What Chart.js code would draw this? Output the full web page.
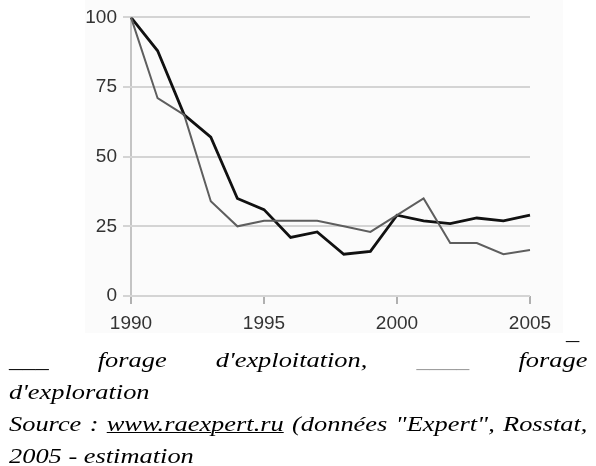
<!DOCTYPE html>
<html>
<head>
<meta charset="utf-8">
<script src="https://cdn.jsdelivr.net/npm/chart.js@4.4.0/dist/chart.umd.min.js"></script>
<style>
  html, body { margin: 0; padding: 0; background: #fff; }
  body { width: 596px; height: 466px; overflow: hidden; position: relative; }
  #bg { position: absolute; left: 85px; top: 0; width: 478px; height: 333px; background: #fbfbfb; }
  #wrap { position: absolute; left: 0; top: 0; width: 596px; height: 335px; }
  #note {
    position: absolute; left: 9px; top: 344px; width: 482px;
    transform: scaleX(1.2); transform-origin: 0 0;
    font-family: "Liberation Serif", "Times New Roman", serif;
    font-style: italic; font-size: 22px; line-height: 32px;
    color: #000;
  }
  #note p { margin: 0; text-align: justify; }
  #note p.full { text-align-last: justify; }
  #note .gray { color: #9a9a9a; }
  #note u { text-decoration-thickness: 1px; }
  #dash {
    position: absolute; left: 566px; top: 319px;
    font-family: "Liberation Serif", serif; font-size: 22px; color: #000;
    transform: scaleX(1.2); transform-origin: 0 0;
  }
</style>
</head>
<body>
<div id="bg"></div>
<div id="wrap"><canvas id="myChart"></canvas></div>
<div id="dash">_</div>
<div id="note">
  <p class="full">___ forage d'exploitation, <span class="gray">____</span> forage</p>
  <p>d'exploration</p>
  <p>Source : <u>www.raexpert.ru</u> (données "Expert", Rosstat, 2005 - estimation</p>
</div>
<script>
const years = ['1990', '1991', '1992', '1993', '1994', '1995', '1996', '1997',
               '1998', '1999', '2000', '2001', '2002', '2003', '2004', '2005'];
const exploitation = [100, 88, 65, 57, 35, 31, 21, 23, 15, 16, 29, 27, 26, 28, 27, 29];
const exploration = [100, 71, 65, 34, 25, 27, 27, 27, 25, 23, 29, 35, 19, 19, 15, 16.5];
const yTicks = [0, 25, 50, 75, 100];

const tickFont = { family: 'Liberation Sans', size: 19 };

const data = {
  labels: years,
  datasets: [{
    label: "forage d'exploration",
    data: exploration,
    borderColor: '#5e5e5e',
    borderWidth: 2,
    pointRadius: 0,
    tension: 0
  }, {
    label: "forage d'exploitation",
    data: exploitation,
    borderColor: '#111',
    borderWidth: 2.8,
    pointRadius: 0,
    tension: 0
  }]
};

const config = {
  type: 'line',
  data,
  options: {
    responsive: true,
    maintainAspectRatio: false,
    animation: false,
    layout: { padding: { left: 0, right: 66, top: 17, bottom: 0 } },
    plugins: { legend: { display: false }, tooltip: { enabled: false } },
    scales: {
      x: {
        offset: false,
        afterFit: (s) => { s.height = 39; },
        border: { display: false },
        grid: {
          drawOnChartArea: true,
          // only the first and last verticals run through the plot
          color: (c) => (c.index === 0 || c.index === years.length - 1) ? '#c4c4c4' : 'rgba(0,0,0,0)',
          tickColor: '#b0b0b0',
          lineWidth: 2,
          tickLength: 8
        },
        ticks: {
          autoSkip: false,
          maxRotation: 0,
          padding: 8,
          color: '#333',
          font: tickFont,
          callback: function (v, i) { return i % 5 === 0 ? years[i] : null; }
        }
      },
      y: {
        min: 0,
        max: 100,
        afterFit: (s) => { s.width = 131; },
        afterBuildTicks: (s) => { s.ticks = yTicks.map(v => ({ value: v })); },
        border: { display: false },
        grid: { color: '#d4d4d4', lineWidth: 2, tickLength: 8 },
        ticks: { padding: 6, color: '#333', font: tickFont }
      }
    }
  }
};

const myChart = new Chart(document.getElementById('myChart'), config);
</script>
</body>
</html>
